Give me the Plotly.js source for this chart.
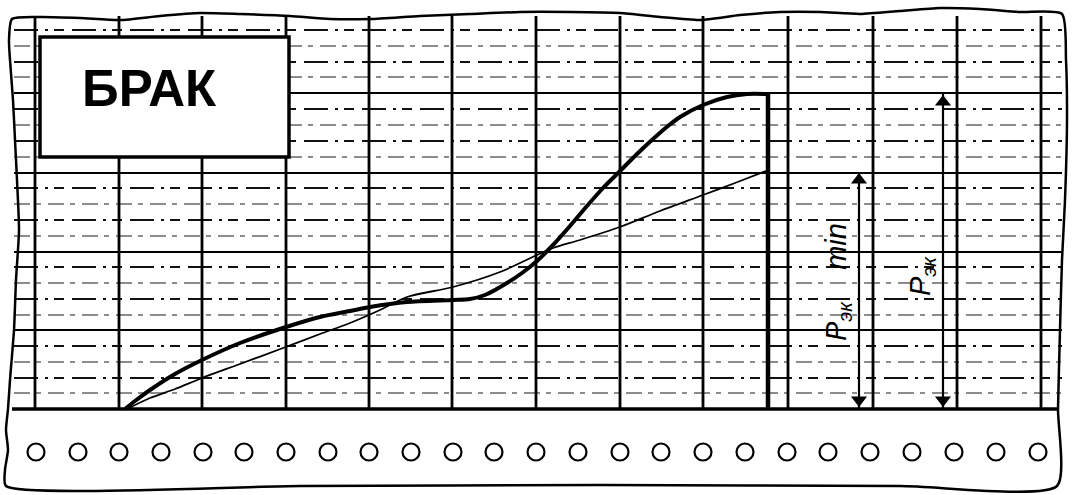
<!DOCTYPE html>
<html>
<head>
<meta charset="utf-8">
<script src="https://cdn.plot.ly/plotly-3.0.1.min.js"></script>
<style>html,body{margin:0;padding:0;background:#fff;}#chart{width:1072px;height:495px;}</style>
</head>
<body>
<div id="chart"></div>
<script>
// ---- data (pixel-like chart units) ----
const vGridX = [35, 119, 202, 286, 369, 452, 536, 620, 703, 788, 873, 957, 1041];
const hMajorY = [93, 173, 252, 330];
const hMinorDarkY = [30, 62, 109, 141, 188, 220, 267, 299, 346, 378];
const hMinorGrayY = [46, 77, 125, 157, 204, 236, 283, 315, 362, 393];
const baseY = 409;

const thickCurveX = [125, 135, 150, 175, 202, 240, 283, 320, 350, 370, 407, 453, 470, 485, 507, 522, 537, 553, 570, 587, 603, 620, 637, 653, 668, 680, 703, 727, 747, 767];
const thickCurveY = [409, 401, 390, 374, 360, 343, 328, 317, 311, 307, 302, 300, 299, 295, 283, 273, 261, 245, 226, 206, 188, 171, 154, 139, 126, 117, 105, 97, 94, 94];
const thinCurveX = [127, 150, 175, 202, 240, 283, 320, 350, 380, 407, 453, 500, 537, 553, 580, 620, 660, 703, 735, 766];
const thinCurveY = [409, 398, 389, 378, 364, 348, 334, 323, 310, 297, 287, 272, 255, 248, 240, 227, 211, 195, 183, 171];
const dropX = [768, 768];
const dropY = [94, 409];

const arrowX = [859, 943];
const arrowTopY = [172, 94];
const arrowBottomY = [408, 408];
const arrowLabels = ["P<sub>эк</sub>    <i>min</i>", "P<sub>эк</sub>"];
const arrowLabelX = [838, 922];
const arrowLabelY = [282, 276];

const holeX = [36, 78, 119, 161, 203, 244, 286, 328, 369, 411, 453, 494, 536, 578, 620, 661, 703, 745, 787, 828, 870, 912, 954, 996, 1038];
const holeY = 452;

const topEdgeX = [12, 40, 80, 120, 160, 200, 240, 290, 330, 370, 420, 470, 520, 570, 620, 660, 700, 740, 780, 820, 860, 900, 940, 980, 1020, 1062];
const topEdgeY = [19, 17, 18, 20, 16, 13, 14, 16, 19, 19, 16, 14, 12, 12, 13, 17, 20, 15, 12, 12, 14, 11, 8, 9, 12, 14];
const rightEdgeX = [1066, 1067, 1065, 1062, 1060, 1058, 1057];
const rightEdgeY = [60, 120, 200, 260, 330, 409, 486];
const bottomEdgeX = [900, 600, 300, 6];
const bottomEdgeY = [486, 485, 486, 486];
const leftEdgeX = [5, 8, 6, 8, 10, 14, 16, 19, 17, 15, 13, 10, 9, 12];
const leftEdgeY = [470, 450, 430, 409, 380, 330, 280, 230, 180, 140, 100, 60, 40, 19];

const titleBox = {x: [40, 289], y: [37, 157], text: "БРАК", textX: 149, textY: 88};

// ---- helpers to build segment traces from the arrays ----
function hLines(ys, x0, x1) {
  const x = [], y = [];
  ys.forEach(v => { x.push(x0, x1, null); y.push(v, v, null); });
  return {x, y};
}
function vLines(xs, y0, y1) {
  const x = [], y = [];
  xs.forEach(v => { x.push(v, v, null); y.push(y0, y1, null); });
  return {x, y};
}

const traces = [];
const gray = hLines(hMinorGrayY, 14, 1062);
traces.push({x: gray.x, y: gray.y, mode: 'lines', line: {color: '#8c8c8c', width: 1.8, dash: '16px,6px,5px,7px'}, hoverinfo: 'skip'});
const dark = hLines(hMinorDarkY, 14, 1062);
traces.push({x: dark.x, y: dark.y, mode: 'lines', line: {color: '#111', width: 1.8, dash: '24px,7px,3px,6px,10px,8px'}, hoverinfo: 'skip'});
const maj = hLines(hMajorY, 14, 1062);
traces.push({x: maj.x, y: maj.y, mode: 'lines', line: {color: '#000', width: 2.2}, hoverinfo: 'skip'});
const vg = vLines(vGridX, 16, baseY);
traces.push({x: vg.x, y: vg.y, mode: 'lines', line: {color: '#000', width: 2.8}, hoverinfo: 'skip'});

// paper outline
const outX = topEdgeX.concat(rightEdgeX, bottomEdgeX, leftEdgeX);
const outY = topEdgeY.concat(rightEdgeY, bottomEdgeY, leftEdgeY);
traces.push({x: outX, y: outY, mode: 'lines', line: {color: '#000', width: 2.5, shape: 'spline', smoothing: 0.6}, hoverinfo: 'skip'});
// strip top line
traces.push({x: [12, 1058], y: [baseY, baseY], mode: 'lines', line: {color: '#000', width: 3.5}, hoverinfo: 'skip'});

// curves
traces.push({x: thinCurveX, y: thinCurveY, mode: 'lines', line: {color: '#000', width: 1.8, shape: 'spline', smoothing: 0.8}, hoverinfo: 'skip'});
traces.push({x: thickCurveX, y: thickCurveY, mode: 'lines', line: {color: '#000', width: 4, shape: 'spline', smoothing: 0.8}, hoverinfo: 'skip'});
traces.push({x: dropX, y: dropY, mode: 'lines', line: {color: '#000', width: 4.5}, hoverinfo: 'skip'});

// arrows
arrowX.forEach((ax, i) => {
  traces.push({x: [ax, ax], y: [arrowTopY[i], arrowBottomY[i]], mode: 'lines', line: {color: '#000', width: 2.2}, hoverinfo: 'skip'});
  traces.push({x: [ax], y: [arrowTopY[i] + 8], mode: 'markers', marker: {symbol: 'triangle-up', size: 14, color: '#000'}, hoverinfo: 'skip'});
  traces.push({x: [ax], y: [arrowBottomY[i] - 8], mode: 'markers', marker: {symbol: 'triangle-down', size: 14, color: '#000'}, hoverinfo: 'skip'});
});

// perforation holes
traces.push({x: holeX, y: holeX.map(() => holeY), mode: 'markers', marker: {symbol: 'circle-open', size: 17, color: '#000', line: {width: 2.2, color: '#000'}}, hoverinfo: 'skip'});

const annotations = [{
  x: titleBox.textX, y: titleBox.textY,
  xref: 'x', yref: 'y', text: titleBox.text, showarrow: false,
  font: {family: 'Liberation Sans, Arial, sans-serif', size: 51, color: '#000', weight: 'bold'}
}];
arrowLabels.forEach((t, i) => {
  annotations.push({
    x: arrowLabelX[i], y: arrowLabelY[i], xref: 'x', yref: 'y', text: '<i>' + t + '</i>', showarrow: false, textangle: -90,
    font: {family: 'Liberation Sans, Arial, sans-serif', size: 29, color: '#000'}
  });
});

const layout = {
  width: 1072, height: 495,
  margin: {l: 0, r: 0, t: 0, b: 0},
  paper_bgcolor: '#fff', plot_bgcolor: '#fff',
  showlegend: false,
  xaxis: {range: [0, 1072], visible: false, fixedrange: true},
  yaxis: {range: [495, 0], visible: false, fixedrange: true},
  shapes: [{type: 'rect', xref: 'x', yref: 'y', x0: titleBox.x[0], x1: titleBox.x[1], y0: titleBox.y[0], y1: titleBox.y[1],
    fillcolor: '#fff', line: {color: '#000', width: 3.5}, layer: 'above'}],
  annotations: annotations
};

Plotly.newPlot('chart', traces, layout, {displayModeBar: false, staticPlot: true});
</script>
</body>
</html>
